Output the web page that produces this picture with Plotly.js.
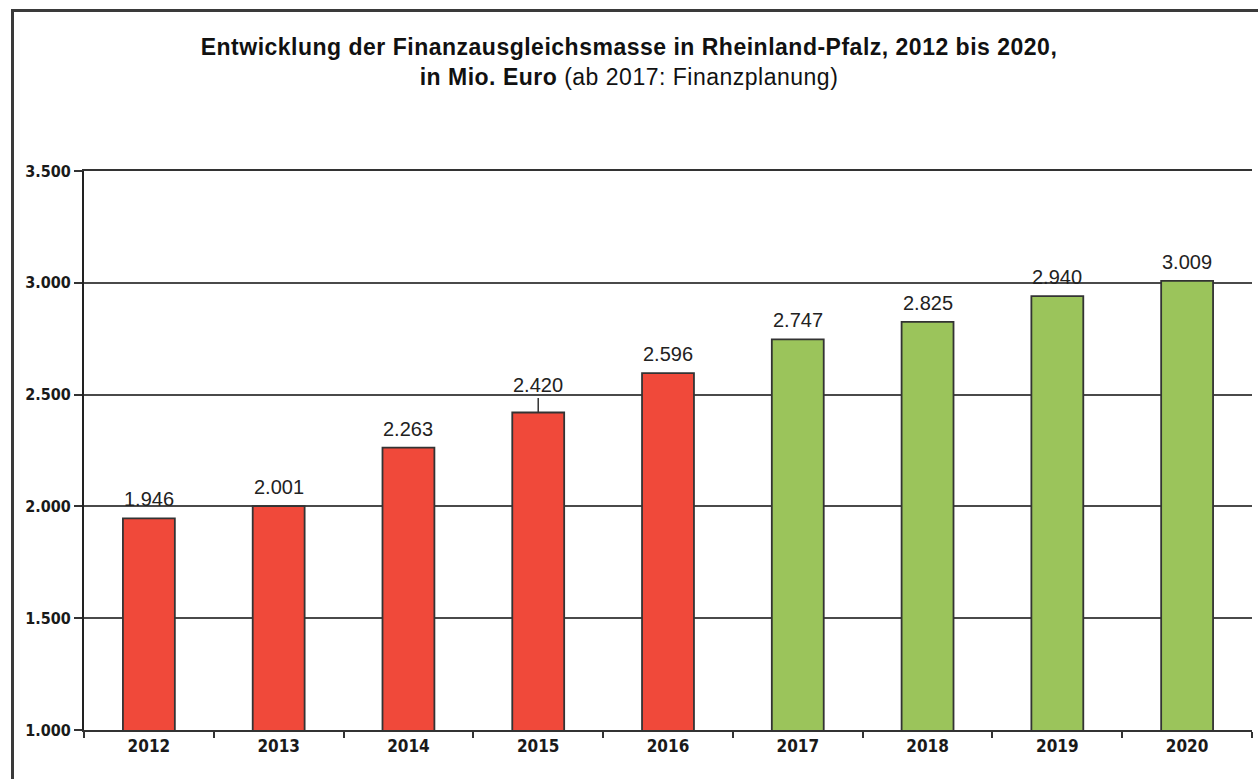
<!DOCTYPE html>
<html>
<head>
<meta charset="utf-8">
<script src="https://cdn.plot.ly/plotly-3.0.1.min.js"></script>
<style>
  html, body { margin: 0; padding: 0; background: #fff; }
  #wrap { position: relative; width: 1258px; height: 779px; }
  #chart { position: absolute; left: 0; top: 0; width: 1258px; height: 779px; }
  #frame { position: absolute; left: 11px; top: 9px; width: 1300px; height: 800px;
           border-left: 3px solid #3a3a3a; border-top: 3px solid #3a3a3a; pointer-events: none; }
  #chart .gtitle { letter-spacing: 0.5px; }
</style>
</head>
<body>
<div id="wrap">
  <div id="chart"></div>
  <div id="frame"></div>
</div>
<script>
// Data
const years = ["2012", "2013", "2014", "2015", "2016", "2017", "2018", "2019", "2020"];
const values = [1946, 2001, 2263, 2420, 2596, 2747, 2825, 2940, 3009];
const planStartYear = "2017";
const yTickValues = [1000, 1500, 2000, 2500, 3000, 3500];

const colorActual = "#F0493A";
const colorPlan = "#9BC45B";
const barColors = years.map(y => (Number(y) >= Number(planStartYear) ? colorPlan : colorActual));

const tickFont = { family: "DejaVu Sans Condensed, DejaVu Sans, sans-serif", size: 16, color: "#1a1a1a", weight: "bold" };
const labelFont = { family: "Liberation Sans, Arial, sans-serif", size: 20, color: "#222" };

// Year whose value label sits on a short leader line in the original
const leaderYears = new Set(["2015"]);

const trace = {
  type: "bar",
  x: years,
  y: values,
  width: 0.4,
  marker: { color: barColors, line: { color: "#333333", width: 1.8 } },
  hoverinfo: "x+y"
};

// category axis: annotation x given as the category index
const annotations = years.map((yr, i) => {
  const label = values[i].toLocaleString("de-DE");
  if (leaderYears.has(yr)) {
    return {
      x: i, y: values[i], xref: "x", yref: "y",
      text: label, font: labelFont,
      showarrow: true, arrowhead: 0, arrowwidth: 1.5, arrowcolor: "#333",
      ax: 0, ay: -27, standoff: 0
    };
  }
  return {
    x: i, y: values[i], xref: "x", yref: "y",
    text: label, font: labelFont,
    showarrow: false, yanchor: "bottom", yshift: 6
  };
});

const layout = {
  width: 1258,
  height: 779,
  separators: ",.",
  paper_bgcolor: "#ffffff",
  plot_bgcolor: "#ffffff",
  margin: { l: 84, r: 6, t: 171, b: 49 },
  showlegend: false,
  title: {
    text: "<b>Entwicklung der Finanzausgleichsmasse in Rheinland-Pfalz, 2012 bis 2020,</b><br><b>in Mio. Euro</b> (ab 2017: Finanzplanung)",
    font: { family: "Liberation Sans, Arial, sans-serif", size: 23, color: "#111" },
    x: 0.5,
    xanchor: "center",
    xref: "container",
    yref: "container",
    y: 0.9297,
    yanchor: "middle"
  },
  xaxis: {
    type: "category",
    range: [-0.5, years.length - 0.5],
    showline: true,
    mirror: true,
    linecolor: "#333",
    linewidth: 2,
    ticks: "outside",
    tickson: "boundaries",
    ticklen: 6,
    tickwidth: 2,
    tickcolor: "#333",
    showgrid: false,
    tickfont: Object.assign({}, tickFont, { size: 17 }),
    fixedrange: true
  },
  yaxis: {
    range: [1000, 3500],
    tickvals: yTickValues,
    tickformat: ",d",
    showline: true,
    linecolor: "#222",
    linewidth: 2,
    ticks: "outside",
    ticklen: 8,
    tickwidth: 2,
    tickcolor: "#333",
    showgrid: true,
    gridcolor: "#4a4a4a",
    gridwidth: 2,
    zeroline: false,
    tickfont: tickFont,
    fixedrange: true
  },
  annotations: annotations,
  bargap: 0.6
};

Plotly.newPlot("chart", [trace], layout, { displayModeBar: false, staticPlot: true });
</script>
</body>
</html>
